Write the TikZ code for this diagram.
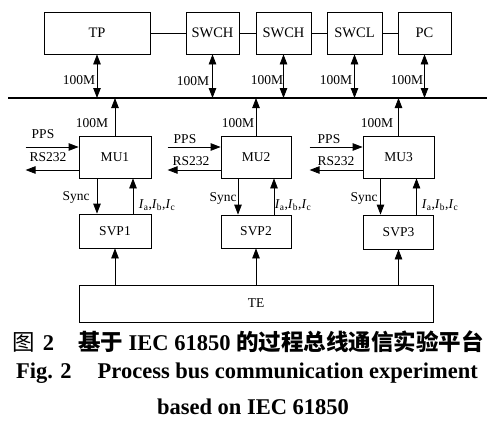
\documentclass[tikz,border=0pt]{standalone}
\usepackage{fontspec}
\setmainfont{Liberation Serif}
\newfontfamily\cjk{Noto Sans CJK SC}
\usetikzlibrary{arrows.meta}

\begin{document}
\begin{tikzpicture}[x=1pt,y=-1pt]

\tikzset{BoxStyle/.style = {draw, line width=.8pt, inner sep=0pt,
                            font=\fontsize{13.5}{15}\selectfont},
         TopStyle/.style = {BoxStyle, minimum height=42pt,
                            font=\fontsize{14.5}{16}\selectfont},
         ArrStyle/.style = {-{Triangle[length=10pt,width=7.5pt]}, line width=.8pt},
         DArrStyle/.style = {{Triangle[length=10pt,width=7.5pt]}-{Triangle[length=10pt,width=7.5pt]},
                            line width=.8pt},
         LblStyle/.style = {inner sep=0pt, font=\fontsize{13.5}{15}\selectfont}}

\useasboundingbox (0,0) rectangle (492,423);

% top row
\node[TopStyle, minimum width=106pt] (TP)    at (97,33)    {TP};
\node[TopStyle, minimum width=53pt]  (SWCH1) at (212.5,33) {SWCH};
\node[TopStyle, minimum width=55pt]  (SWCH2) at (283.5,33) {SWCH};
\node[TopStyle, minimum width=55pt]  (SWCL)  at (354.5,33) {SWCL};
\node[TopStyle, minimum width=53pt]  (PC)    at (424.5,33) {PC};

\draw[line width=.8pt] (TP) -- (SWCH1);
\draw[line width=.8pt] (SWCH1) -- (SWCH2);
\draw[line width=.8pt] (SWCH2) -- (SWCL);
\draw[line width=.8pt] (SWCL) -- (PC);

% process bus
\coordinate (busL) at (8,98);
\coordinate (busR) at (487,98);
\draw[line width=1.4pt] (busL) -- (busR);

\draw[DArrStyle] (TP.south)    -- (TP.south |- busL);
\draw[DArrStyle] (SWCH1.south) -- (SWCH1.south |- busL);
\draw[DArrStyle] (SWCH2.south) -- (SWCH2.south |- busL);
\draw[DArrStyle] (SWCL.south)  -- (SWCL.south |- busL);
\draw[DArrStyle] (PC.south)    -- (PC.south |- busL);

\node[LblStyle] (nTP)  at (79,80)  {100M};
\node[LblStyle] (nSW1) at (193,81) {100M};
\node[LblStyle] (nSW2) at (267,80) {100M};
\node[LblStyle] (nSWL) at (336,80) {100M};
\node[LblStyle] (nPC)  at (407,80) {100M};

% merging units
\node[BoxStyle, minimum width=72pt, minimum height=42pt] (MU1) at (115,157)   {MU1};
\node[BoxStyle, minimum width=70pt, minimum height=42pt] (MU2) at (256,157)   {MU2};
\node[BoxStyle, minimum width=71pt, minimum height=42pt] (MU3) at (398.5,157) {MU3};

\node[BoxStyle, minimum width=72pt, minimum height=34pt] (SVP1) at (115,231) {SVP1};
\node[BoxStyle, minimum width=70pt, minimum height=33pt] (SVP2) at (256,231.5) {SVP2};
\node[BoxStyle, minimum width=70pt, minimum height=34pt] (SVP3) at (398.5,232) {SVP3};

\node[BoxStyle, minimum width=354pt, minimum height=37pt] (TE) at (256,303.5) {TE};

\foreach \m/\l in {1/92, 2/238, 3/377}{
  \draw[ArrStyle] (MU\m.north) -- (MU\m.north |- busL);
  \node[LblStyle] (nMU\m) at (\l,123) {100M};
  \draw[ArrStyle] ([xshift=-18pt]MU\m.south) -- ([xshift=-18pt]SVP\m.north);
  \draw[ArrStyle] ([xshift=18pt]SVP\m.north) -- ([xshift=18pt]MU\m.south);
  \draw[ArrStyle] (TE.north -| SVP\m.south) -- (SVP\m.south);
  \coordinate (pps\m) at ([xshift=-53pt,yshift=10pt]MU\m.west);
  \coordinate (rs\m)  at ([xshift=-53pt,yshift=-13pt]MU\m.west);
  \draw[ArrStyle] (pps\m) -- (pps\m -| MU\m.west);
  \draw[ArrStyle] (rs\m -| MU\m.west) -- (rs\m);
}

\node[LblStyle] (pps1L) at (43,134)  {PPS};
\node[LblStyle] (pps2L) at (185,139) {PPS};
\node[LblStyle] (pps3L) at (329,139) {PPS};
\node[LblStyle] (rs1L)  at (48,157)  {RS232};
\node[LblStyle] (rs2L)  at (191,161) {RS232};
\node[LblStyle] (rs3L)  at (336,161) {RS232};

\node[LblStyle] (sync1) at (76,197)  {Sync};
\node[LblStyle] (sync2) at (223,198) {Sync};
\node[LblStyle] (sync3) at (364,198) {Sync};

\node[LblStyle] (iabc1) at (157,205) {\textit{I}\textsubscript{a},\textit{I}\textsubscript{b},\textit{I}\textsubscript{c}};
\node[LblStyle] (iabc2) at (293,205) {\textit{I}\textsubscript{a},\textit{I}\textsubscript{b},\textit{I}\textsubscript{c}};
\node[LblStyle] (iabc3) at (440,205) {\textit{I}\textsubscript{a},\textit{I}\textsubscript{b},\textit{I}\textsubscript{c}};

% caption
\node[inner sep=0pt, font=\fontsize{22.5}{24}\selectfont] (capCN) at (248,342)
  {{\cjk 图}\hspace{8pt}\textbf{2}\hspace{24pt}{\cjk\bfseries 基于}~\textbf{IEC 61850}~{\cjk\bfseries 的过程总线通信实验平台}};
\node[inner sep=0pt, font=\fontsize{22.5}{24}\selectfont\bfseries] (capEN1) at (247,373)
  {Fig. 2\hspace{26pt}Process bus communication experiment};
\node[inner sep=0pt, font=\fontsize{22.5}{24}\selectfont\bfseries] (capEN2) at (253,407)
  {based on IEC 61850};

\end{tikzpicture}
\end{document}
